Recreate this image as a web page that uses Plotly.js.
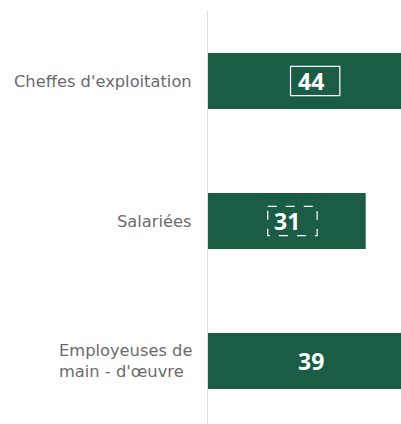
<!DOCTYPE html>
<html><head><meta charset="utf-8">
<script src="https://cdn.plot.ly/plotly-3.0.1.min.js"></script>
<style>html,body{margin:0;padding:0;background:#fff;}#chart{width:401px;height:424px;}</style>
</head><body><div id="chart"></div>
<script>
const categories = ["Cheffes d'exploitation", "Salariées", "Employeuses de<br>main - d'œuvre"];
const values = [44, 31, 39];
const boxStyles = ["solid", "dash", null];

const xmax = 37.94;
const barColor = '#1b5c45';

const annotations = [];
const shapes = [];
values.forEach((v, i) => {
  const cx = v <= xmax ? v / 2 : xmax / 2 + 1.2;
  annotations.push({
    x: cx, y: i, xref: 'x', yref: 'y', text: String(v), showarrow: false,
    font: {family: 'Open Sans', size: 23, color: '#ffffff', weight: 'bold'}
  });
  if (boxStyles[i]) {
    const off = boxStyles[i] === 'solid' ? 0.9 : 1.1;
    const w = 4.85;
    shapes.push({
      type: 'rect', xref: 'x', yref: 'y',
      x0: cx - w + off, x1: cx + w + off,
      y0: i - 0.105, y1: i + 0.105,
      line: {color: '#ffffff', width: 1.2, dash: boxStyles[i]}
    });
  }
});
categories.forEach((c, i) => {
  annotations.push({
    x: 0, xref: 'paper', xanchor: 'right', xshift: -14,
    y: i, yref: 'y', text: c, showarrow: false, align: 'left',
    font: {family: 'DejaVu Sans', size: 16.3, color: '#6b6b6b'}
  });
});

const trace = {
  type: 'bar', orientation: 'h',
  x: values, y: categories,
  marker: {color: barColor},
  width: 0.4,
  hoverinfo: 'none'
};

const layout = {
  width: 401, height: 424,
  margin: {l: 208, r: 0, t: 11, b: 0, pad: 0},
  paper_bgcolor: '#ffffff', plot_bgcolor: '#ffffff',
  showlegend: false,
  xaxis: {range: [0, xmax], visible: false, showgrid: false, zeroline: false, fixedrange: true},
  yaxis: {
    type: 'category', range: [2.45, -0.5],
    showline: true, linecolor: '#dcdcdc', linewidth: 1.5,
    showgrid: false, zeroline: false, showticklabels: false, ticks: '',
    fixedrange: true
  },
  annotations: annotations,
  shapes: shapes
};

Plotly.newPlot('chart', [trace], layout, {displayModeBar: false, staticPlot: true});
</script>
</body></html>
